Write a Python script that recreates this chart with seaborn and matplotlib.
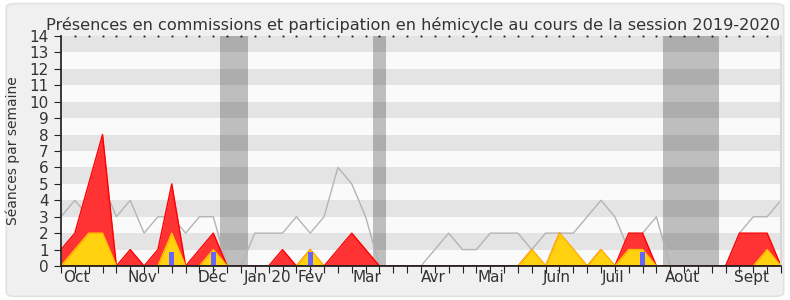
import numpy as np
import pandas as pd
import matplotlib
matplotlib.use("Agg")
import matplotlib.pyplot as plt
from matplotlib.patches import FancyBboxPatch
import seaborn as sns

# ---- data (weekly, 53 points) ----
weeks = list(range(53))
total = [1, 2, 5, 8, 0, 1, 0, 1, 5, 0, 1, 2, 0, 0, 0, 0, 1, 0, 1, 0,
         1, 2, 1, 0, 0, 0, 0, 0, 0, 0, 0, 0, 0, 0, 1, 0, 2, 1, 0, 1,
         0, 2, 2, 0, 0, 0, 0, 0, 0, 2, 2, 2, 0]
commission = [0, 1, 2, 2, 0, 0, 0, 0, 2, 0, 0, 1, 0, 0, 0, 0, 0, 0, 1, 0,
              0, 0, 0, 0, 0, 0, 0, 0, 0, 0, 0, 0, 0, 0, 1, 0, 2, 1, 0, 1,
              0, 1, 1, 0, 0, 0, 0, 0, 0, 0, 0, 1, 0]
median_line = [3, 4, 3, 5, 3, 4, 2, 3, 3, 2, 3, 3, 0, 0, 2, 2, 2, 3, 2, 3,
               6, 5, 3, 0, 0, 0, 0, 1, 2, 1, 1, 2, 2, 2, 1, 2, 2, 2, 3, 4,
               3, 1, 2, 3, 0, 0, 0, 0, 0, 2, 3, 3, 4]
question_weeks = [8, 11, 18, 42]
question_vals = [0.85, 0.85, 0.85, 0.85]
vacations = [(11.5, 13.5), (22.5, 23.5), (43.5, 47.5)]
month_labels = ["Oct", "Nov", "Déc", "Jan 20", "Fév", "Mar", "Avr", "Mai",
                "Juin", "Juil", "Août", "Sept"]
month_pos = [1.1, 5.9, 10.95, 14.9, 18.05, 22.1, 26.9, 31.05, 35.8, 39.9,
             44.9, 49.9]
title = ("Présences en commissions et participation en hémicycle "
         "au cours de la session 2019-2020")
ylabel = "Séances par semaine"

df = pd.DataFrame({"week": weeks, "total": total, "commission": commission,
                   "median": median_line})

sns.set_theme(style="white")
plt.rcParams["font.family"] = ["DejaVu Sans"]

fig = plt.figure(figsize=(7.9, 3.0), dpi=100)
fig.patch.set_facecolor("#ffffff")
bg = FancyBboxPatch((0.008, 0.012), 0.984, 0.976,
                    boxstyle="round,pad=0,rounding_size=0.012",
                    transform=fig.transFigure, facecolor="#f0f0f0",
                    edgecolor="#e2e2e2", linewidth=1.2, zorder=-10)
fig.add_artist(bg)
ax = fig.add_axes([0.0772, 0.1133, 0.9114, 0.7667])
ax.set_zorder(1)
ax.set_facecolor("#fafafa")

ax.set_xlim(0, 52)
ax.set_ylim(0, 14)

# horizontal stripes
for k in range(0, 14, 2):
    ax.axhspan(k + 1, k + 2, color="#000000", alpha=0.085, lw=0, zorder=1)
# vacation bands
for a, b in vacations:
    ax.axvspan(a, b, color="#bebebe", lw=0, zorder=0.9)

# median / reference grey line
sns.lineplot(data=df, x="week", y="median", ax=ax, color="#b4b4b4",
             linewidth=1.0, zorder=2, legend=False)

# total (red) and commission (yellow) areas
ax.fill_between(df["week"], 0, df["total"], color="#ff3333", lw=0, zorder=3)
ax.plot(df["week"], df["total"], color="#ff0000", lw=1.0, zorder=3.5)
ax.fill_between(df["week"], 0, df["commission"], color="#ffd10f", lw=0, zorder=4)
ax.plot(df["week"], df["commission"], color="#ffc400", lw=1.0, zorder=4.5)
ax.axhline(0, color="#8b0000", lw=1.2, zorder=4.6)

# questions (blue bars)
ax.bar(question_weeks, question_vals, width=0.35, color="#6666ff", lw=0, zorder=5)

# axes styling
for s in ["top", "right"]:
    ax.spines[s].set_visible(False)
ax.spines["left"].set_color("#222222")
ax.spines["bottom"].set_color("#222222")
ax.spines["left"].set_zorder(6)
ax.spines["bottom"].set_zorder(6)
ax.plot([52, 52], [0, 14], color="#d8d8d8", lw=1.5, zorder=6, clip_on=False)

ax.set_yticks(range(0, 15))
ax.set_yticklabels([str(v) for v in range(0, 15)], fontsize=11, color="#333333")
ax.tick_params(axis="y", length=5, width=0.8, color="#222222", pad=4, left=True)

ax.set_xticks(weeks)
ax.set_xticklabels([])
ax.tick_params(axis="x", which="major", length=5, width=0.8, color="#222222",
               bottom=True, top=False)
ax.set_xticks(month_pos, minor=True)
ax.set_xticklabels(month_labels, minor=True, fontsize=11, color="#333333")
ax.tick_params(axis="x", which="minor", length=0, pad=3)

# top dots
for w in weeks[1:-1]:
    ax.plot([w], [14], marker="s", ms=1.3, color="#111111", zorder=7,
            clip_on=False, mew=0)

ax.set_xlabel("")
ax.set_ylabel("")
fig.text(0.0165, 0.497, ylabel, rotation=90, ha="center", va="center",
         fontsize=10, color="#333333")
fig.text(0.523, 0.918, title, ha="center", va="center", fontsize=11.6,
         color="#333333")

fig.savefig("out.png", dpi=100, facecolor=fig.get_facecolor())
